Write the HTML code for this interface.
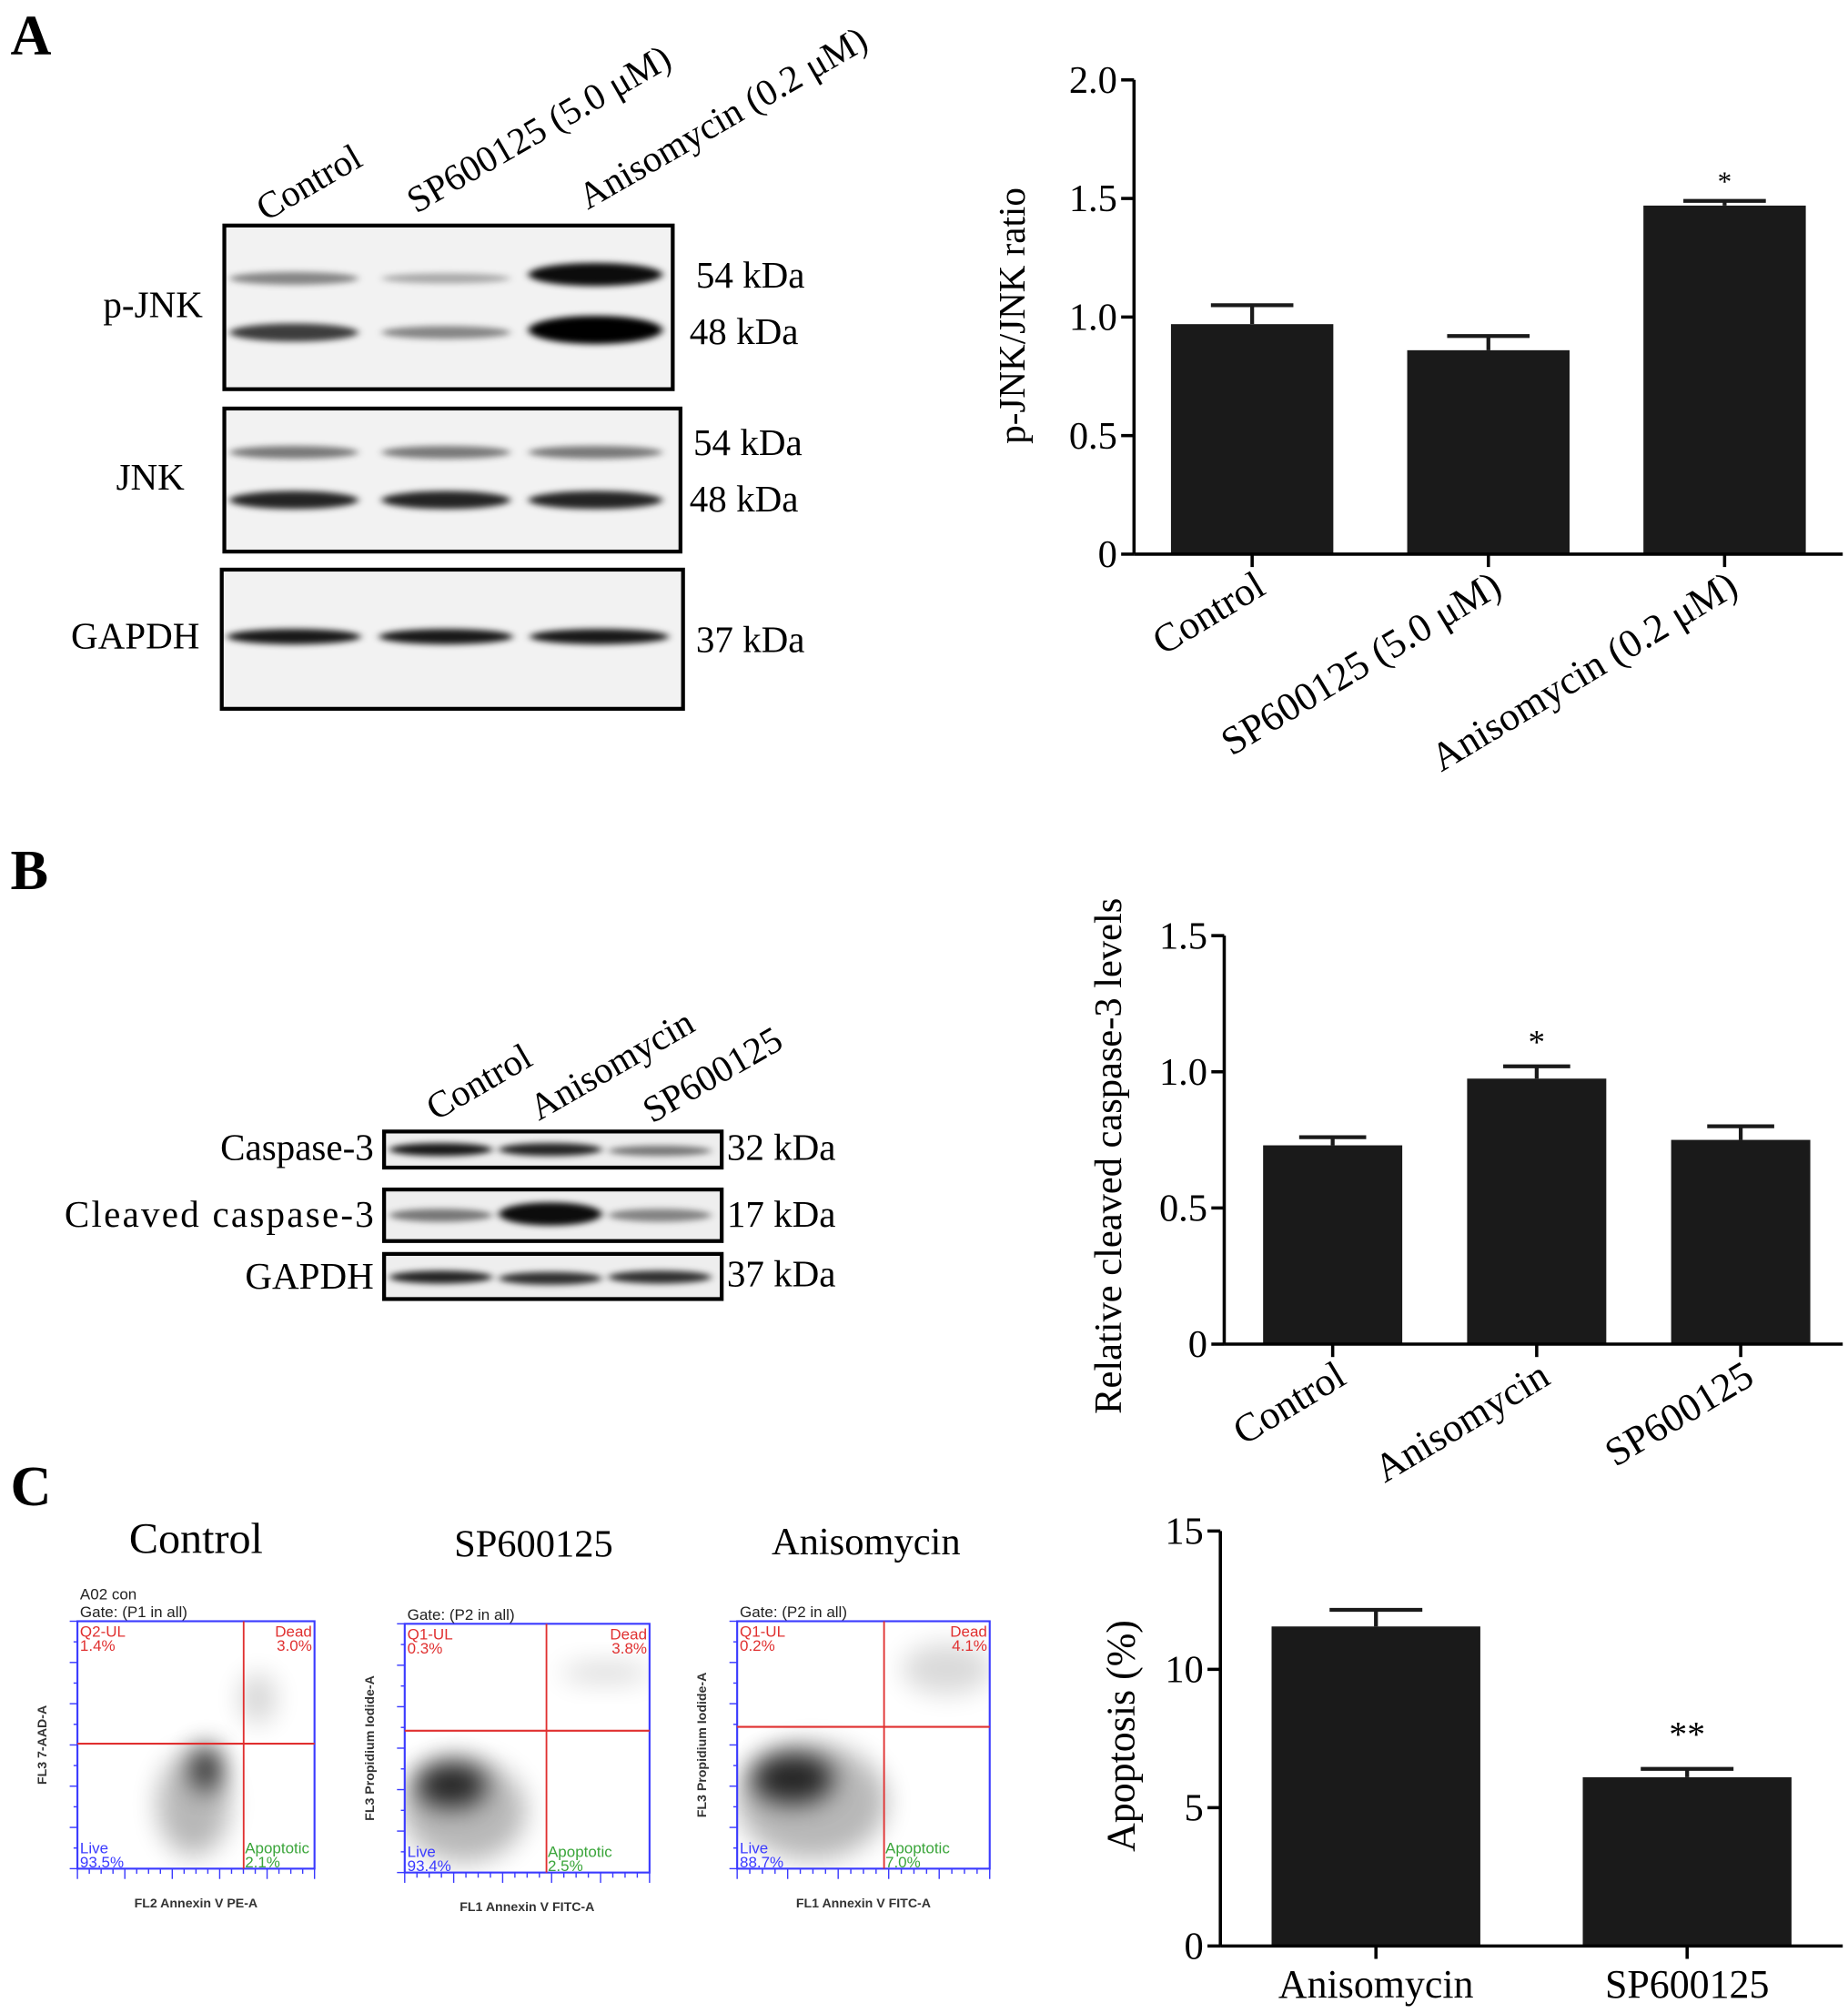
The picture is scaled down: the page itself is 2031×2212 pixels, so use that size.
<!DOCTYPE html>
<html><head><meta charset="utf-8"><style>
html,body{margin:0;padding:0;background:#fff;}
svg{display:block;font-family:"Liberation Serif",serif;}
.fc{font-family:"Liberation Sans",sans-serif;}
</style></head><body>
<svg id="fig" width="2031" height="2212" viewBox="0 0 1434 1562" xmlns="http://www.w3.org/2000/svg">
<defs>
<filter id="bl" x="-20%" y="-100%" width="140%" height="300%"><feGaussianBlur stdDeviation="3 2.5"/></filter>
<filter id="bl2" x="-100%" y="-100%" width="300%" height="300%"><feGaussianBlur stdDeviation="10"/></filter>
<clipPath id="c1"><rect x="60" y="1258" width="184" height="192"/></clipPath>
<clipPath id="c2"><rect x="314" y="1260" width="190" height="193"/></clipPath>
<clipPath id="c3"><rect x="572" y="1258" width="196" height="192"/></clipPath>
</defs>
<text x="8" y="42" font-size="44" font-weight="bold">A</text>
<text x="8" y="690" font-size="44" font-weight="bold">B</text>
<text x="8" y="1168" font-size="44" font-weight="bold">C</text>

<g font-size="29">
<text transform="translate(206,172) rotate(-30)">Control</text>
<text transform="translate(323,166) rotate(-30)">SP600125 (5.0 μM)</text>
<text transform="translate(456,163) rotate(-30)">Anisomycin (0.2 μM)</text>
<rect x="174" y="175" width="348" height="127" fill="#f2f2f2" stroke="#000" stroke-width="3"/>
<g filter="url(#bl)" fill="#000">
<ellipse cx="228" cy="216" rx="50" ry="5" opacity="0.45"/><ellipse cx="346" cy="216" rx="50" ry="4" opacity="0.3"/><ellipse cx="462" cy="213" rx="52" ry="9" opacity="0.95"/>
<ellipse cx="228" cy="258" rx="50" ry="7" opacity="0.75"/><ellipse cx="346" cy="258" rx="50" ry="5" opacity="0.45"/><ellipse cx="462" cy="256" rx="52" ry="11" opacity="1"/>
</g>
<rect x="174" y="317" width="354" height="111" fill="#f2f2f2" stroke="#000" stroke-width="3"/>
<g filter="url(#bl)" fill="#000">
<ellipse cx="228" cy="351" rx="50" ry="5" opacity="0.5"/><ellipse cx="346" cy="351" rx="50" ry="5" opacity="0.5"/><ellipse cx="462" cy="351" rx="52" ry="5" opacity="0.5"/>
<ellipse cx="228" cy="388" rx="50" ry="7" opacity="0.85"/><ellipse cx="346" cy="388" rx="50" ry="7" opacity="0.85"/><ellipse cx="462" cy="388" rx="52" ry="7" opacity="0.85"/>
</g>
<rect x="172" y="442" width="358" height="108" fill="#f2f2f2" stroke="#000" stroke-width="3"/>
<g filter="url(#bl)" fill="#000">
<ellipse cx="228" cy="494" rx="52" ry="6" opacity="0.9"/><ellipse cx="346" cy="494" rx="52" ry="6" opacity="0.9"/><ellipse cx="465" cy="494" rx="54" ry="6" opacity="0.9"/>
</g>
<text x="80" y="246">p-JNK</text>
<text x="90" y="380">JNK</text>
<text x="55" y="503">GAPDH</text>
<text x="540" y="223">54 kDa</text><text x="535" y="267">48 kDa</text>
<text x="538" y="353">54 kDa</text><text x="535" y="397">48 kDa</text>
<text x="540" y="506">37 kDa</text>
</g>

<g font-size="29">
<text transform="translate(338,870) rotate(-30)">Control</text>
<text transform="translate(418,870) rotate(-30)">Anisomycin</text>
<text transform="translate(506,872) rotate(-30)">SP600125</text>
<rect x="298" y="878" width="262" height="28" fill="#eee" stroke="#000" stroke-width="3"/>
<rect x="298" y="923" width="262" height="40" fill="#eee" stroke="#000" stroke-width="3"/>
<rect x="298" y="973" width="262" height="35" fill="#eee" stroke="#000" stroke-width="3"/>
<g filter="url(#bl)" fill="#000">
<ellipse cx="342" cy="892" rx="40" ry="5" opacity="0.9"/><ellipse cx="427" cy="892" rx="40" ry="5" opacity="0.85"/><ellipse cx="512" cy="893" rx="40" ry="4" opacity="0.5"/>
<ellipse cx="342" cy="943" rx="40" ry="5" opacity="0.5"/><ellipse cx="427" cy="942" rx="40" ry="9" opacity="0.95"/><ellipse cx="512" cy="943" rx="40" ry="5" opacity="0.45"/>
<ellipse cx="342" cy="991" rx="40" ry="5" opacity="0.85"/><ellipse cx="427" cy="992" rx="40" ry="5" opacity="0.8"/><ellipse cx="512" cy="991" rx="40" ry="5" opacity="0.8"/>
</g>
<text x="290" y="900" text-anchor="end">Caspase-3</text>
<text x="290" y="952" text-anchor="end" textLength="240">Cleaved caspase-3</text>
<text x="290" y="1000" text-anchor="end">GAPDH</text>
<text x="564" y="900">32 kDa</text><text x="564" y="952">17 kDa</text><text x="564" y="998">37 kDa</text>
</g>

<g class="fc">
<text x="152" y="1205" font-size="34" text-anchor="middle" font-family="Liberation Serif,serif">Control</text>
<text x="414" y="1208" font-size="30" text-anchor="middle" font-family="Liberation Serif,serif">SP600125</text>
<text x="672" y="1206" font-size="30" text-anchor="middle" font-family="Liberation Serif,serif">Anisomycin</text>
<g id="fp"></g>
</g>

<g id="charts"></g>
</svg>
<script>
const NS="http://www.w3.org/2000/svg";
function mk(parent,tag,attrs,text){const e=document.createElementNS(NS,tag);for(const k in attrs)e.setAttribute(k,attrs[k]);if(text!==undefined)e.textContent=text;parent.appendChild(e);return e;}

const flows=[
 {x0:60,x1:244,y0:1258,y1:1450,vx:189,hy:1353,ul:"Q2-UL",ulv:"1.4%",dv:"3.0%",lv:"93.5%",av:"2.1%",xl:"FL2 Annexin V PE-A",yl:"FL3 7-AAD-A",gate:"Gate: (P1 in all)",blobs:[[160,1372,12,18,1],[150,1400,28,40,.35],[200,1318,14,20,.2]]},
 {x0:314,x1:504,y0:1260,y1:1453,vx:424,hy:1343,ul:"Q1-UL",ulv:"0.3%",dv:"3.8%",lv:"93.4%",av:"2.5%",xl:"FL1 Annexin V FITC-A",yl:"FL3 Propidium Iodide-A",gate:"Gate: (P2 in all)",blobs:[[350,1385,28,18,1],[360,1405,48,40,.35],[470,1298,35,8,.18]]},
 {x0:572,x1:768,y0:1258,y1:1450,vx:686,hy:1340,ul:"Q1-UL",ulv:"0.2%",dv:"4.1%",lv:"88.7%",av:"7.0%",xl:"FL1 Annexin V FITC-A",yl:"FL3 Propidium Iodide-A",gate:"Gate: (P2 in all)",blobs:[[615,1380,32,20,1],[630,1398,58,45,.35],[735,1295,35,20,.18]]}
];
const fp=document.getElementById('fp');
flows.forEach((f,i)=>{
 const g=mk(fp,'g',{});
 
 
 const bg=mk(g,'g',{'clip-path':`url(#c${i+1})`});
 f.blobs.forEach(b=>mk(bg,'ellipse',{cx:b[0],cy:b[1],rx:b[2],ry:b[3],fill:'#000',opacity:b[4]*0.8,filter:'url(#bl2)'}));
 mk(g,'rect',{x:f.x0,y:f.y0,width:f.x1-f.x0,height:f.y1-f.y0,fill:'none',stroke:'#3a3aff','stroke-width':1.5});
 mk(g,'line',{x1:f.vx,x2:f.vx,y1:f.y0,y2:f.y1,stroke:'#e03030','stroke-width':1.3});
 mk(g,'line',{x1:f.x0,x2:f.x1,y1:f.hy,y2:f.hy,stroke:'#e03030','stroke-width':1.5});
 mk(g,'text',{x:f.x0+2,y:f.y0+12,'font-size':12,fill:'#e03030'},f.ul);
 mk(g,'text',{x:f.x0+2,y:f.y0+23,'font-size':12,fill:'#e03030'},f.ulv);
 mk(g,'text',{x:f.x1-2,y:f.y0+12,'font-size':12,fill:'#e03030','text-anchor':'end'},'Dead');
 mk(g,'text',{x:f.x1-2,y:f.y0+23,'font-size':12,fill:'#e03030','text-anchor':'end'},f.dv);
 mk(g,'text',{x:f.x0+2,y:f.y1-12,'font-size':12,fill:'#3a3aff'},'Live');
 mk(g,'text',{x:f.x0+2,y:f.y1-1,'font-size':12,fill:'#3a3aff'},f.lv);
 mk(g,'text',{x:f.vx+1,y:f.y1-12,'font-size':12,fill:'#3aa53a'},'Apoptotic');
 mk(g,'text',{x:f.vx+1,y:f.y1-1,'font-size':12,fill:'#3aa53a'},f.av);
 mk(g,'text',{x:(f.x0+f.x1)/2,y:f.y1+30,'font-size':10,'text-anchor':'middle','font-weight':'bold',fill:'#333'},f.xl);
 mk(g,'text',{transform:`translate(${f.x0-24},${(f.y0+f.y1)/2}) rotate(-90)`,'font-size':10,'text-anchor':'middle','font-weight':'bold',fill:'#333'},f.yl);
 mk(g,'text',{x:f.x0+2,y:f.y0-3,'font-size':12,fill:'#222'},f.gate);
 if(i===0) mk(g,'text',{x:f.x0+2,y:f.y0-17,'font-size':12,fill:'#222'},'A02 con');
 for(let k=0;k<=20;k++){const x=f.x0+(f.x1-f.x0)*k/20;mk(g,'line',{x1:x,x2:x,y1:f.y1,y2:f.y1+(k%4?4:8),stroke:'#3a3aff','stroke-width':1});}
 for(let k=0;k<=12;k++){const y=f.y0+(f.y1-f.y0)*k/12;mk(g,'line',{x1:f.x0,x2:f.x0-(k%2?3:6),y1:y,y2:y,stroke:'#3a3aff','stroke-width':1});}
});

const catsA=["Control","SP600125 (5.0 μM)","Anisomycin (0.2 μM)"];
const valsA=[0.97,0.86,1.47];
const errA=[0.08,0.06,0.02];
const sigA=["","","*"];
const ticksA=[0,0.5,1.0,1.5,2.0];
const tickLabelsA=["0","0.5","1.0","1.5","2.0"];

const catsB=["Control","Anisomycin","SP600125"];
const valsB=[0.73,0.975,0.75];
const errB=[0.03,0.045,0.05];
const sigB=["","*",""];
const ticksB=[0,0.5,1.0,1.5];
const tickLabelsB=["0","0.5","1.0","1.5"];

const catsC=["Anisomycin","SP600125"];
const valsC=[11.55,6.1];
const errC=[0.6,0.3];
const sigC=["","**"];
const ticksC=[0,5,10,15];
const tickLabelsC=["0","5","10","15"];

const charts=document.getElementById('charts');
function barChart(cfg){
 const g=mk(charts,'g',{'font-size':28});
 
 
 const y=v=>cfg.y0-(v-cfg.ymin)/(cfg.ymax-cfg.ymin)*(cfg.y0-cfg.yTop);
 const n=cfg.cats.length, step=(cfg.xEnd-cfg.xStart)/n;
 const x=i=>cfg.xStart+step*(i+0.5);
 cfg.vals.forEach((v,i)=>{
  const cx=x(i), bw=cfg.bw;
  const er=mk(g,'path',{d:`M${cx},${y(v)} V${y(v+cfg.err[i])} M${cx-cfg.cap},${y(v+cfg.err[i])} H${cx+cfg.cap}`,stroke:'#1a1a1a','stroke-width':3,fill:'none'});
  
  
  const b=mk(g,'rect',{x:cx-bw/2,y:y(v),width:bw,height:y(cfg.ymin)-y(v),fill:'#1a1a1a'});
  
  
  if(cfg.sig[i]){const s=mk(g,'text',{x:cx,y:y(v+cfg.err[i])-cfg.sigOff,'text-anchor':'middle','font-size':cfg.sigSize},cfg.sig[i]);
   
   }
  mk(g,'line',{x1:cx,x2:cx,y1:cfg.y0,y2:cfg.y0+10,stroke:'#000','stroke-width':2.5});
  const t=cfg.rot?mk(g,'text',{transform:`translate(${cx+12},${cfg.y0+30}) rotate(-31)`,'text-anchor':'end','font-size':cfg.xfs},cfg.cats[i])
               :mk(g,'text',{x:cx,y:cfg.y0+40,'text-anchor':'middle','font-size':cfg.xfs},cfg.cats[i]);
  
  
 });
 mk(g,'line',{x1:cfg.ax,x2:cfg.ax,y1:cfg.yTop,y2:cfg.y0,stroke:'#000','stroke-width':2.5});
 mk(g,'line',{x1:cfg.ax,x2:cfg.xEnd,y1:cfg.y0,y2:cfg.y0,stroke:'#000','stroke-width':2.5});
 cfg.ticks.forEach((t,i)=>{
  mk(g,'line',{x1:cfg.ax-10,x2:cfg.ax,y1:y(t),y2:y(t),stroke:'#000','stroke-width':2.5});
  const l=mk(g,'text',{x:cfg.ax-13,y:y(t)+10,'text-anchor':'end','font-size':30},cfg.tickLabels[i]);
  
  
 });
 const yt=mk(g,'text',{transform:`translate(${cfg.ylx},${cfg.yly}) rotate(-90)`,'text-anchor':'middle','font-size':cfg.ylfs||29},cfg.ylabel);
 
 
}
barChart({name:'chart-pjnk-ratio',cats:catsA,vals:valsA,err:errA,sig:sigA,ticks:ticksA,tickLabels:tickLabelsA,ymin:0,ymax:2,y0:430,yTop:62,ax:880,xStart:880,xEnd:1430,bw:126,cap:32,rot:true,xfs:31,ylabel:'p-JNK/JNK ratio',ylx:795,yly:245,sigOff:8,sigSize:22});
barChart({name:'chart-cleaved-caspase3',cats:catsB,vals:valsB,err:errB,sig:sigB,ticks:ticksB,tickLabels:tickLabelsB,ymin:0,ymax:1.5,y0:1043,yTop:726,ax:950,xStart:955,xEnd:1430,bw:108,cap:26,rot:true,xfs:31,ylabel:'Relative cleaved caspase-3 levels',ylx:870,yly:897,ylfs:30,sigOff:10,sigSize:26});
barChart({name:'chart-apoptosis',cats:catsC,vals:valsC,err:errC,sig:sigC,ticks:ticksC,tickLabels:tickLabelsC,ymin:0,ymax:15,y0:1510,yTop:1188,ax:947,xStart:947,xEnd:1430,bw:162,cap:36,rot:false,xfs:31,ylabel:'Apoptosis (%)',ylx:880,yly:1347,ylfs:31,sigOff:18,sigSize:28});
</script>
</body></html>
